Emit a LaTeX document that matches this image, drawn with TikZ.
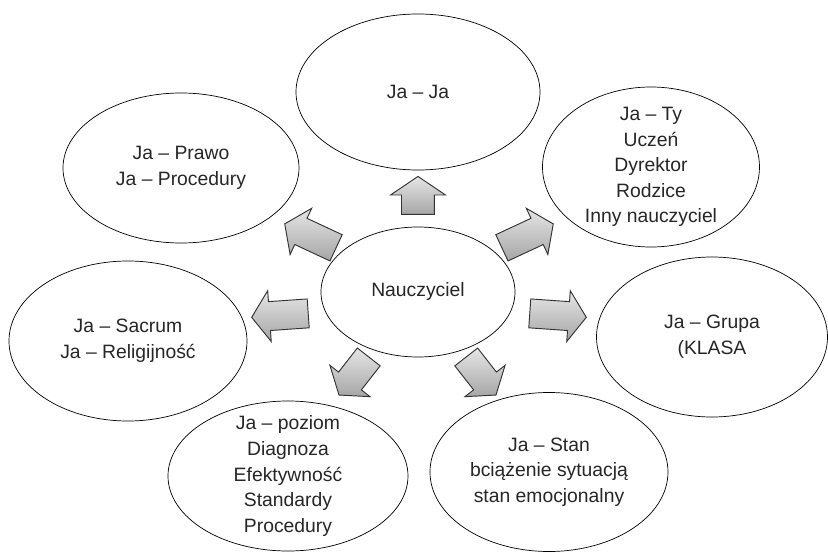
\documentclass[tikz,border=0pt]{standalone}
\usepackage{fontspec}
\setmainfont{Liberation Sans}
\usetikzlibrary{shapes.geometric,shapes.arrows}

\begin{document}
\begin{tikzpicture}[scale=1.0]
\tikzstyle{bubble}=[draw=black,line width=0.6pt,shape=ellipse,inner sep=0pt]
\tikzstyle{txt}=[align=center,inner sep=0pt,font=\fontsize{16.5}{21.8}\selectfont,text=black!85]
\tikzstyle{blockarrow}=[shape=single arrow,draw=black!80,line width=0.8pt,
    shading=axis,top color=gray!20,bottom color=gray!70,
    inner xsep=0pt,inner ysep=0.42cm,single arrow head extend=0.33cm,
    single arrow tip angle=110,minimum height=1.7cm]
\useasboundingbox (-12.54,-7.77) rectangle (12.30,8.76);
% ellipses
\node[bubble,minimum width=5.82cm,minimum height=3.90cm] (teacher) at (0,0) {};
\node[bubble,minimum width=7.32cm,minimum height=4.68cm] (self) at (0,6.00) {};
\node[bubble,minimum width=7.08cm,minimum height=4.50cm] (law) at (-7.11,3.72) {};
\node[bubble,minimum width=6.51cm,minimum height=4.80cm] (you) at (6.99,3.75) {};
\node[bubble,minimum width=7.14cm,minimum height=4.80cm] (sacrum) at (-8.70,-1.47) {};
\node[bubble,minimum width=6.93cm,minimum height=4.80cm] (group) at (8.82,-1.35) {};
\node[bubble,minimum width=7.20cm,minimum height=4.50cm] (level) at (-3.90,-5.52) {};
\node[bubble,minimum width=7.14cm,minimum height=4.77cm] (state) at (3.93,-5.40) {};
% texts
\node[txt] (teacher-t) at (teacher) {Nauczyciel};
\node[txt] (self-t) at (self) {Ja – Ja};
\node[txt] (law-t) at (law) {Ja – Prawo\\Ja – Procedury};
\node[txt] (you-t) at (you) {Ja – Ty\\Uczeń\\Dyrektor\\Rodzice\\Inny nauczyciel};
\node[txt] (sacrum-t) at (sacrum) {Ja – Sacrum\\Ja – Religijność};
\node[txt] (group-t) at (group) {Ja – Grupa\\(KLASA};
\node[txt] (level-t) at (level) {Ja – poziom\\Diagnoza\\Efektywność\\Standardy\\Procedury};
\node[txt] (state-t) at (state) {Ja – Stan\\bciążenie sytuacją\\stan emocjonalny};
% arrows
\node[blockarrow,rotate=90,minimum height=1.14cm,inner ysep=0.48cm,
      single arrow tip angle=112] (arr-self) at (0,2.73) {};
\foreach \n/\x/\y/\a/\l in {law/-3.09/1.62/155/1.7, you/3.15/1.62/25/1.7,
    sacrum/-3.99/-0.69/184/1.7, group/4.05/-0.69/-4/1.7,
    level/-1.83/-2.40/232/1.45, state/1.80/-2.40/-52/1.45}
	\node[blockarrow,rotate=\a,minimum height=\l cm] (arr-\n) at (\x,\y) {};
\end{tikzpicture}
\end{document}
